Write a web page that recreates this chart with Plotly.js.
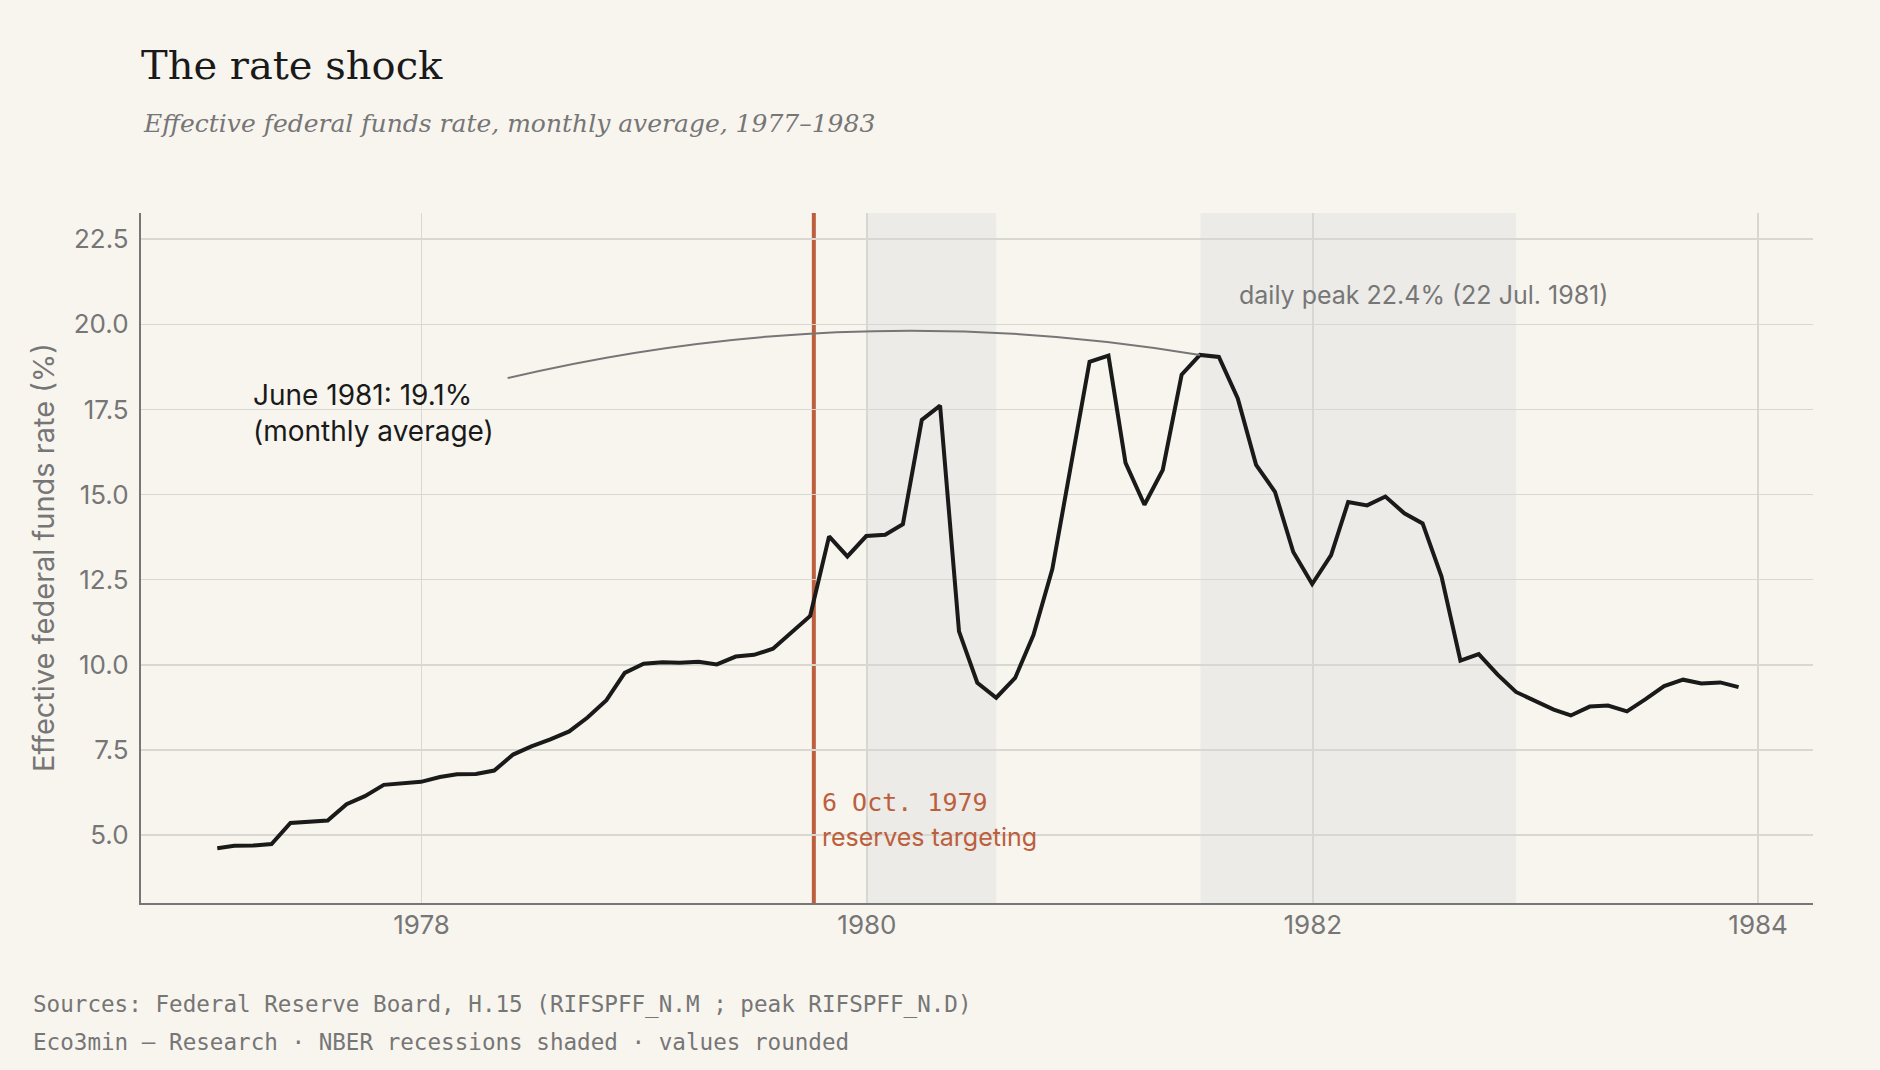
<!DOCTYPE html>
<html>
<head>
<meta charset="utf-8">
<script src="https://cdn.plot.ly/plotly-3.0.1.min.js"></script>
<style>
  html, body { margin: 0; padding: 0; background: #F8F5EF; }
  #chart { width: 1880px; height: 1070px; }
</style>
</head>
<body>
<div id="chart"></div>
<script>
// Effective federal funds rate, monthly averages (%)
const rates1977 = [4.61, 4.68, 4.69, 4.73, 5.35, 5.39, 5.42, 5.90, 6.14, 6.47, 6.51, 6.56];
const rates1978 = [6.70, 6.78, 6.79, 6.89, 7.36, 7.60, 7.81, 8.04, 8.45, 8.96, 9.76, 10.03];
const rates1979 = [10.07, 10.06, 10.09, 10.01, 10.24, 10.29, 10.47, 10.94, 11.43, 13.77, 13.18, 13.78];
const rates1980 = [13.82, 14.13, 17.19, 17.61, 10.98, 9.47, 9.03, 9.61, 10.87, 12.81, 15.85, 18.90];
const rates1981 = [19.08, 15.93, 14.70, 15.72, 18.52, 19.10, 19.04, 17.82, 15.87, 15.08, 13.31, 12.37];
const rates1982 = [13.22, 14.78, 14.68, 14.94, 14.45, 14.15, 12.59, 10.12, 10.31, 9.71, 9.20, 8.95];
const rates1983 = [8.68, 8.51, 8.77, 8.80, 8.63, 8.98, 9.37, 9.56, 9.45, 9.48, 9.34];
const years = [1977, 1978, 1979, 1980, 1981, 1982, 1983];

// NBER recessions (start, end)
const recessionStarts = ["1980-01-01", "1981-07-01"];
const recessionEnds   = ["1980-07-31", "1982-11-30"];

// Policy event
const eventDate = "1979-10-06";

// Axis ticks
const xTickVals = ["1978-01-01", "1980-01-01", "1982-01-01", "1984-01-01"];
const xTickText = ["1978", "1980", "1982", "1984"];
const yTickVals = [5, 7.5, 10, 12.5, 15, 17.5, 20, 22.5];

// Build month-end dates for each observation
const perYear = [rates1977, rates1978, rates1979, rates1980, rates1981, rates1982, rates1983];
const dates = [];
const rates = [];
function pad(n) { return (n < 10 ? "0" : "") + n; }
perYear.forEach((arr, yi) => {
  arr.forEach((v, mi) => {
    const y = years[yi];
    const lastDay = new Date(Date.UTC(y, mi + 1, 0)).getUTCDate();
    dates.push(y + "-" + pad(mi + 1) + "-" + pad(lastDay));
    rates.push(v);
  });
});

// Monthly peak (June 1981) used by the callout connector
const peakIdx = dates.indexOf("1981-06-30");
const peakDate = dates[peakIdx];
const peakVal = rates[peakIdx];

const INK = "#1a1a1a";
const GREY = "#767676";
const RUST = "#BC5F3D";
const BG = "#F8F5EF";
const SHADE = "#ECEBE7";
const GRID = "#D9D7D2";
const MONO = "DejaVu Sans Mono";

const shapes = [];
recessionStarts.forEach((s, i) => {
  shapes.push({
    type: "rect", xref: "x", yref: "paper",
    x0: s, x1: recessionEnds[i], y0: 0, y1: 1,
    fillcolor: SHADE, line: { width: 0 }, layer: "below"
  });
});
shapes.push({
  type: "line", xref: "x", yref: "paper",
  x0: eventDate, x1: eventDate, y0: 0, y1: 1,
  line: { color: RUST, width: 4 }, layer: "between"
});
// curved connector from the June 1981 label to the monthly peak
shapes.push({
  type: "path", xref: "x", yref: "y",
  path: "M 1978-05-22 18.42 Q 1979-12-09 20.81 " + peakDate + " " + peakVal,
  line: { color: GREY, width: 2 }, fillcolor: "rgba(0,0,0,0)", layer: "above"
});

const annotations = [
  {
    xref: "paper", yref: "paper", x: 0, y: 1.1297, xanchor: "left", yanchor: "middle",
    text: "<i>Effective federal funds rate, monthly average, 1977–1983</i>",
    showarrow: false,
    font: { family: "DejaVu Serif", size: 25, color: GREY }
  },
  {
    xref: "x", yref: "y", x: "1977-03-28", y: 17.39, xanchor: "left", yanchor: "middle", align: "left",
    text: "June 1981: 19.1%<br>(monthly average)",
    showarrow: false,
    font: { family: "Inter", size: 28, color: INK }
  },
  {
    xref: "x", yref: "y", x: "1981-08-30", y: 20.85, xanchor: "left", yanchor: "middle",
    text: "daily peak 22.4% (22 Jul. 1981)",
    showarrow: false,
    font: { family: "Inter", size: 25, color: GREY }
  },
  {
    xref: "x", yref: "y", x: eventDate, xshift: 6, y: 5.95, xanchor: "left", yanchor: "middle",
    text: "6 Oct. 1979",
    showarrow: false,
    font: { family: MONO, size: 25, color: RUST }
  },
  {
    xref: "x", yref: "y", x: eventDate, xshift: 6, y: 4.93, xanchor: "left", yanchor: "middle",
    text: "reserves targeting",
    showarrow: false,
    font: { family: "Inter", size: 25, color: RUST }
  },
  {
    xref: "paper", yref: "paper", x: -0.0586, y: 0.5, xanchor: "center", yanchor: "middle",
    text: "Effective federal funds rate (%)", textangle: -90,
    showarrow: false,
    font: { family: "Inter", size: 29, color: GREY }
  },
  {
    xref: "paper", yref: "paper", x: -0.0655, y: -0.1478, xanchor: "left", yanchor: "middle",
    text: "Sources: Federal Reserve Board, H.15 (RIFSPFF_N.M ; peak RIFSPFF_N.D)",
    showarrow: false,
    font: { family: MONO, size: 22.6, color: GREY }
  },
  {
    xref: "paper", yref: "paper", x: -0.0655, y: -0.2014, xanchor: "left", yanchor: "middle",
    text: "Eco3min — Research · NBER recessions shaded · values rounded",
    showarrow: false,
    font: { family: MONO, size: 22.6, color: GREY }
  }
];

const trace = {
  type: "scatter", mode: "lines",
  x: dates, y: rates,
  line: { color: INK, width: 4 },
  hoverinfo: "skip"
};

const layout = {
  width: 1880, height: 1070,
  paper_bgcolor: BG, plot_bgcolor: BG,
  margin: { l: 141, r: 67, t: 213, b: 167, pad: 0 },
  showlegend: false,
  title: {
    text: "The rate shock",
    x: 0, xref: "paper", xanchor: "left",
    y: 0.9393, yref: "container", yanchor: "middle",
    font: { family: "DejaVu Serif", size: 40, color: INK }
  },
  xaxis: {
    type: "date",
    range: ["1976-09-28", "1984-03-31"],
    tickvals: xTickVals, ticktext: xTickText,
    showgrid: true, gridcolor: GRID, gridwidth: 1.6,
    showline: true, linecolor: GREY, linewidth: 2.2,
    ticks: "", zeroline: false, ticklabelstandoff: -2,
    tickfont: { family: "Inter", size: 26, color: GREY }
  },
  yaxis: {
    range: [3.0, 23.27],
    tickvals: yTickVals, tickformat: ".1f",
    showgrid: true, gridcolor: GRID, gridwidth: 1.6,
    showline: true, linecolor: GREY, linewidth: 2.2,
    ticks: "", zeroline: false, ticklabelstandoff: 5,
    tickfont: { family: "Inter", size: 26, color: GREY }
  },
  shapes: shapes,
  annotations: annotations
};

Plotly.newPlot("chart", [trace], layout, { staticPlot: true, displayModeBar: false });
</script>
</body>
</html>
